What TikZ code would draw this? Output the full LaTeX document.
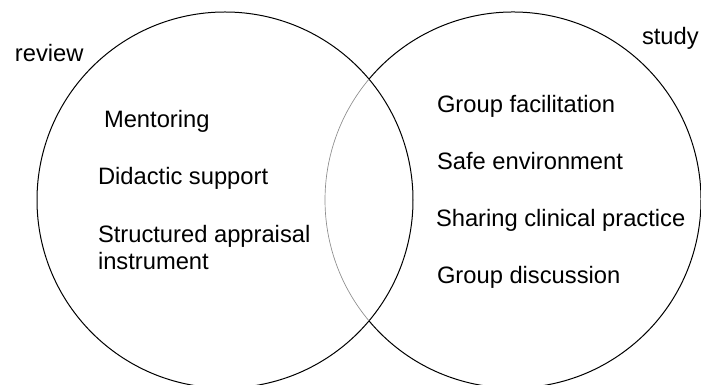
\documentclass[tikz,border=0pt]{standalone}
\usepackage{fontspec}
\setmainfont{Liberation Sans}
\begin{document}
\begin{tikzpicture}[x=0.75pt,y=0.75pt,
  venn/.style={draw=black, line width=0.75pt},
  overlap/.style={draw=black!45, line width=0.5pt},
  ring/.style={circle, minimum size=282pt, inner sep=0pt, outer sep=0pt},
  lbl/.style={anchor=base west, inner sep=0pt, outer sep=0pt, align=left,
    font=\fontsize{17.8}{20.25}\selectfont}]
\useasboundingbox (0,0) rectangle (701,385);
\clip (0,0) rectangle (701,385);
\node[ring, venn] (L) at (225,185) {};
\node[ring] (R) at (513,185) {};
\draw[venn] (R.220) arc[start angle=-140, end angle=140, radius=188];
\draw[overlap] (R.140) arc[start angle=140, end angle=220, radius=188];
\node[lbl] (review) at (15,323) {review};
\node[lbl] (study) at (642,340) {study};
\node[lbl] (ment) at (104,257) {Mentoring};
\node[lbl] (did) at (98,200) {Didactic support};
\node[lbl] (struct) at (98,115) {Structured appraisal\\instrument};
\node[lbl] (gf) at (437,272) {Group facilitation};
\node[lbl] (safe) at (437,215) {Safe environment};
\node[lbl] (share) at (436,158) {Sharing clinical practice};
\node[lbl] (gd) at (437,101) {Group discussion};
\end{tikzpicture}
\end{document}
